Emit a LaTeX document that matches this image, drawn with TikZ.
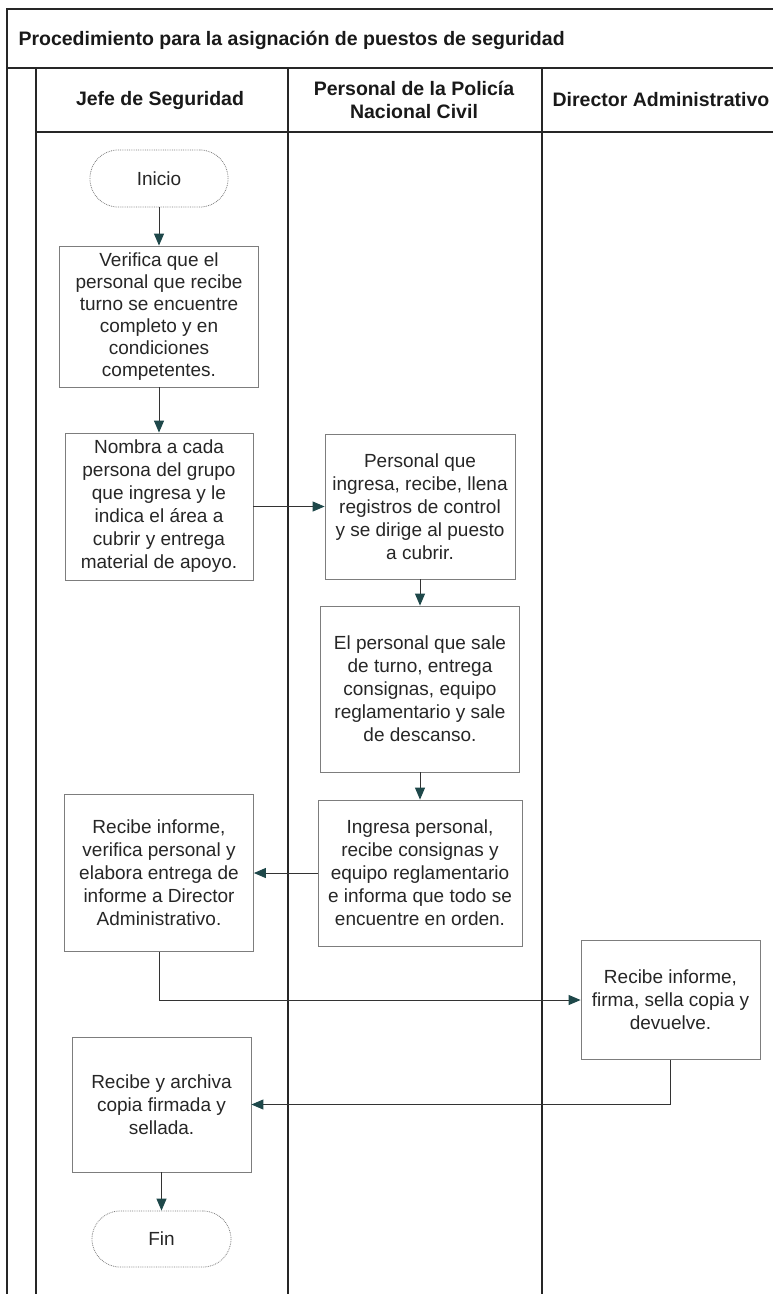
\documentclass[tikz,border=0pt]{standalone}
\usepackage{fontspec}
\setmainfont{Liberation Sans}
\usetikzlibrary{arrows.meta}
\definecolor{flecha}{RGB}{30,72,74}
\definecolor{borde}{RGB}{125,125,125}
\tikzset{
  caja/.style={draw=borde, line width=0.8pt, align=center, inner sep=0pt, text=black!85, font=\fontsize{19}{23}\selectfont},
  terminal/.style={caja, densely dotted, rounded corners=28pt},
  flujo/.style={draw=black!80, line width=1pt, -{Triangle[length=12pt,width=10pt,color=flecha]}},
  carril/.style={line width=1.5pt, black!85},
  titulo/.style={font=\bfseries\fontsize{19.5}{23}\selectfont, align=center, text=black!90}
}
\begin{document}
\begin{tikzpicture}[x=1pt,y=-1pt]
\useasboundingbox (0,0) rectangle (773,1294);
% carriles
\draw[carril] (7,1294) -- (7,9) -- (773,9);
\draw[carril] (7,68) -- (773,68);
\draw[carril] (36,132) -- (773,132);
\draw[carril] (36,68) -- (36,1294);
\draw[carril] (288,68) -- (288,1294);
\draw[carril] (542,68) -- (542,1294);
\node[titulo, anchor=west] (titulo) at (15,40) {Procedimiento para la asignación de puestos de seguridad};
\node[titulo] (jefe) at (160,100) {Jefe de Seguridad};
\node[titulo] (pnc) at (414,100) {Personal de la Policía\\Nacional Civil};
\node[titulo] (director) at (661,100) {Director Administrativo};
% Jefe de Seguridad
\node[terminal, minimum width=138pt, minimum height=57pt] (inicio) at (159,178.5) {Inicio};
\node[caja, minimum width=199pt, minimum height=141pt, font=\fontsize{19}{22}\selectfont] (verifica) at (159,316.5) {Verifica que el\\personal que recibe\\turno se encuentre\\completo y en\\condiciones\\competentes.};
\node[caja, minimum width=188pt, minimum height=147pt] (nombra) at (159,506.5) {Nombra a cada\\persona del grupo\\que ingresa y le\\indica el área a\\cubrir y entrega\\material de apoyo.};
\node[caja, minimum width=189pt, minimum height=157pt] (informe) at (159,873) {Recibe informe,\\verifica personal y\\elabora entrega de\\informe a Director\\Administrativo.};
\node[caja, minimum width=179pt, minimum height=135pt] (archiva) at (161.5,1104.5) {Recibe y archiva\\copia firmada y\\sellada.};
\node[terminal, minimum width=139pt, minimum height=56pt] (fin) at (161.5,1239) {Fin};
% Personal de la PNC
\node[caja, minimum width=190pt, minimum height=145pt] (ingresa) at (420,506.5) {Personal que\\ingresa, recibe, llena\\registros de control\\y se dirige al puesto\\a cubrir.};
\node[caja, minimum width=199pt, minimum height=166pt] (sale) at (420,689) {El personal que sale\\de turno, entrega\\consignas, equipo\\reglamentario y sale\\de descanso.};
\node[caja, minimum width=204pt, minimum height=146pt] (orden) at (420,873) {Ingresa personal,\\recibe consignas y\\equipo reglamentario\\e informa que todo se\\encuentre en orden.};
% Director Administrativo
\node[caja, minimum width=179pt, minimum height=119pt] (firma) at (670.5,1000) {Recibe informe,\\firma, sella copia y\\devuelve.};
% flechas
\draw[flujo] (inicio) -- (verifica);
\draw[flujo] (verifica) -- (nombra);
\draw[flujo] (nombra) -- (ingresa);
\draw[flujo] (ingresa) -- (sale);
\draw[flujo] (sale) -- (orden);
\draw[flujo] (orden) -- (informe);
\draw[flujo] (informe) |- (firma);
\draw[flujo] (firma) |- (archiva);
\draw[flujo] (archiva) -- (fin);
\end{tikzpicture}
\end{document}
